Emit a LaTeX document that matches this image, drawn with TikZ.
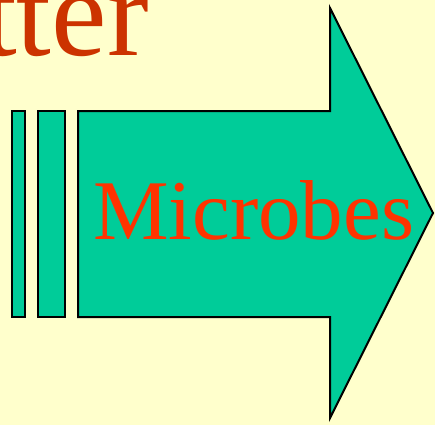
\documentclass[tikz,border=0pt]{standalone}
\usepackage{fontspec}
\setmainfont{Liberation Serif}
\definecolor{paper}{HTML}{FFFFCC}
\definecolor{teal}{HTML}{00CC99}
\definecolor{redtext}{HTML}{FF3300}
\definecolor{darkred}{HTML}{CC3300}
\tikzset{
  band/.style={draw=black, line width=2pt, fill=teal, line join=miter},
}
\begin{document}
\begin{tikzpicture}[x=1pt, y=-1pt]
  \useasboundingbox (0,0) rectangle (435,425);
  \fill[paper] (0,0) rectangle (435,425);
  \clip (0,0) rectangle (435,425);
  % title fragment above the arrow
  \node[anchor=base east, inner sep=0pt, text=darkred, font=\fontsize{125}{125}\selectfont] (title) at (149,56) {tter};
  % two narrow strips trailing the arrow
  \path[band] (12,111) rectangle (25,317);
  \path[band] (38,111) rectangle (65,317);
  % block arrow
  \path[band] (78,111) -- (330,111) -- (330,8) -- (433,213) -- (330,418) -- (330,317) -- (78,317) -- cycle;
  \node[anchor=base west, inner sep=0pt, text=redtext, font=\fontsize{85}{85}\selectfont] (label) at (93,239) {Microbes};
\end{tikzpicture}
\end{document}
